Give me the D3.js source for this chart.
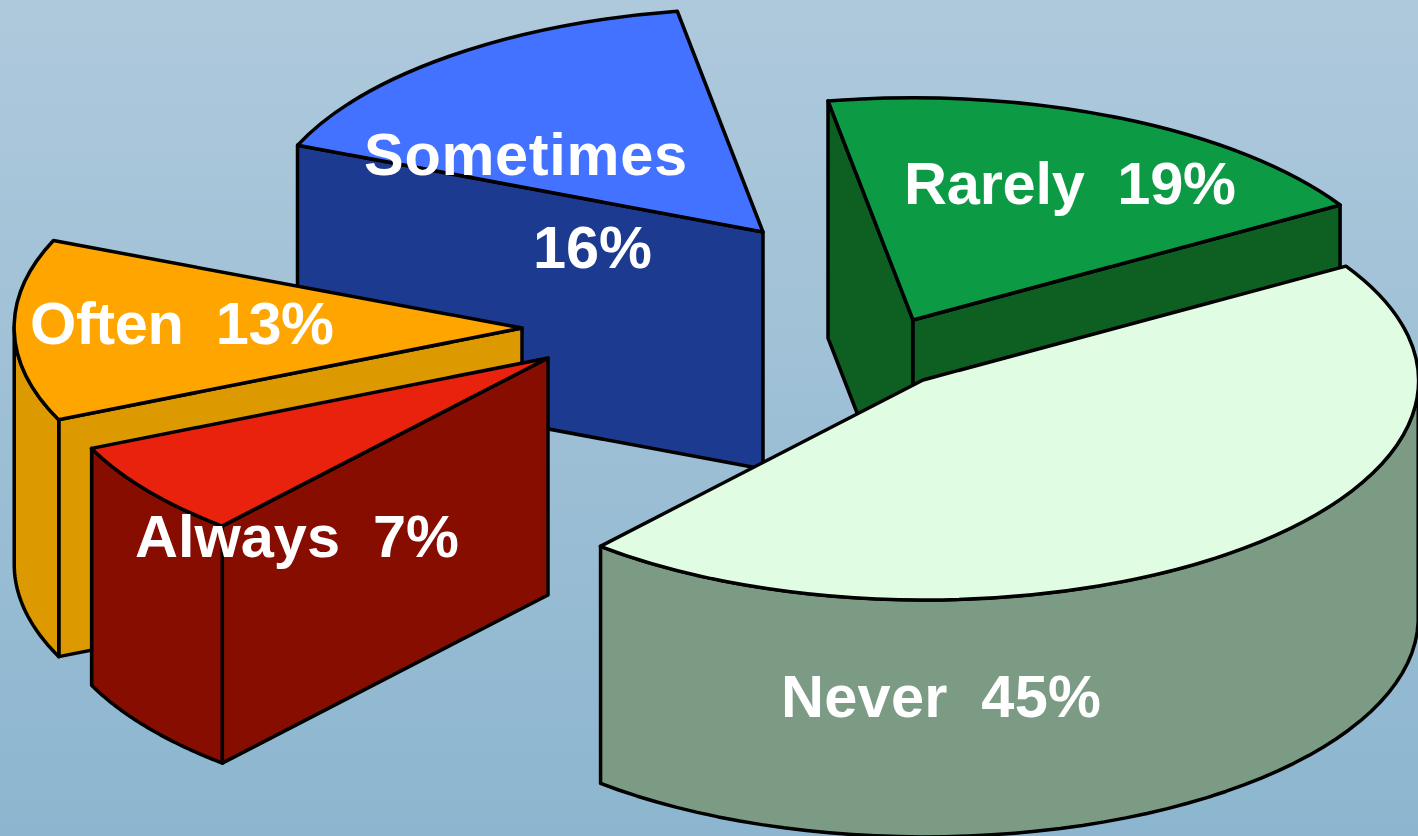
<!DOCTYPE html>
<html>
<head>
<meta charset="utf-8">
<script src="https://cdn.jsdelivr.net/npm/d3@7"></script>
<style>
  html, body { margin: 0; padding: 0; overflow: hidden; }
  svg { display: block; }
  text { font-family: "Liberation Sans", Arial, sans-serif; font-weight: bold; fill: #fff; white-space: pre; }
</style>
</head>
<body>
<div id="chart"></div>
<script>
// values, in pie order (clockwise from the back)
var categories = ["Rarely", "Never", "Always", "Often", "Sometimes"];
var percents = [19, 45, 7, 13, 16];

// styling per category
var topColors = ["#0f9a45", "#e0fde4", "#e8200c", "#ffa500", "#4272ff"];
var wallColors = ["#0a5f23", "#7b9b84", "#870b05", "#dc9a00", "#1d3a90"];

// exploded offset of each slice from the pie centre, in pixels
var explodeX = [173, 183, -192, -218, 23];
var explodeY = [20, 80, 58, 28, -68];
// the slices are not quite the same radius in the original
var radiusScale = [1, 0.99, 1, 1.015, 1.008];

// back to front
var drawOrder = ["Sometimes", "Rarely", "Often", "Always", "Never"];

var width = 1418, height = 836;
var centre = {x: 740, y: 300};
var depth = 237;

// tilted disc: image of the unit circle, angle 0 is the back of the pie
var axisA = {x: -85, y: -219};
var axisB = {x: 493, y: -37};

var svg = d3.select("#chart")
    .append("svg")
    .attr("width", width)
    .attr("height", height);

var defs = svg.append("defs");

var bg = defs.append("linearGradient")
    .attr("id", "bg")
    .attr("x1", 0).attr("y1", 0)
    .attr("x2", 0).attr("y2", 1);
bg.append("stop").attr("offset", "0%").attr("stop-color", "#afc9dc");
bg.append("stop").attr("offset", "100%").attr("stop-color", "#8cb6cf");

defs.append("filter")
    .attr("id", "soft")
    .append("feGaussianBlur")
    .attr("stdDeviation", 0.7);

svg.append("rect")
    .attr("width", width)
    .attr("height", height)
    .attr("fill", "url(#bg)");

var chart = svg.append("g").attr("filter", "url(#soft)");

var pie = d3.pie()
    .sort(null)
    .startAngle(0)
    .endAngle(2 * Math.PI)
    .value(function(d) { return d.percent; });

var slices = pie(categories.map(function(name, i) {
    return {name: name, percent: percents[i], index: i};
}));

var arc = d3.arc().innerRadius(0).outerRadius(1);
var line = d3.line();

function apexOf(s) {
    return [centre.x + explodeX[s.data.index], centre.y + explodeY[s.data.index]];
}

function rimPoint(s, angle) {
    var apex = apexOf(s), k = radiusScale[s.data.index];
    return [apex[0] + k * (axisA.x * Math.cos(angle) + axisB.x * Math.sin(angle)),
            apex[1] + k * (axisA.y * Math.cos(angle) + axisB.y * Math.sin(angle))];
}

// going clockwise, an outline piece faces the viewer only while x is falling
function visibleRuns(chain) {
    var runs = [], run = null;
    for (var i = 1; i < chain.length; i++) {
        if (chain[i][0] < chain[i - 1][0]) {
            if (!run) { run = [chain[i - 1]]; runs.push(run); }
            run.push(chain[i]);
        } else {
            run = null;
        }
    }
    return runs;
}

function wallPath(run) {
    var bottom = run.map(function(p) { return [p[0], p[1] + depth]; }).reverse();
    return line(run.concat(bottom)) + "Z";
}

drawOrder.forEach(function(name) {
    var s = slices[categories.indexOf(name)];
    var apex = apexOf(s), k = radiusScale[s.data.index];
    var rim = d3.range(0, 61).map(function(j) {
        return rimPoint(s, s.startAngle + (s.endAngle - s.startAngle) * j / 60);
    });
    var chains = [[apex, rim[0]], rim, [rim[60], apex]];

    var g = chart.append("g").attr("class", "slice");

    chains.forEach(function(chain) {
        visibleRuns(chain).forEach(function(run) {
            g.append("path")
                .attr("d", wallPath(run))
                .attr("fill", wallColors[s.data.index])
                .attr("stroke", "#000")
                .attr("stroke-width", 3.5)
                .attr("stroke-linejoin", "round");
        });
    });

    // d3.arc draws the unit slice, the matrix tilts it onto the disc
    g.append("path")
        .attr("d", arc(s))
        .attr("transform", "matrix(" + [k * axisB.x, k * axisB.y, -k * axisA.x, -k * axisA.y, apex[0], apex[1]].join(",") + ")")
        .attr("fill", topColors[s.data.index])
        .attr("stroke", "#000")
        .attr("stroke-width", 3.5)
        .attr("stroke-linejoin", "round")
        .attr("vector-effect", "non-scaling-stroke");
});

// labels, one row per line of text, span is the width measured in the picture
var labelLines = [
    {text: categories[0] + "  " + percents[0] + "%", x: 904, y: 204, span: 332},
    {text: categories[1] + "  " + percents[1] + "%", x: 781, y: 717, span: 320},
    {text: categories[2] + "  " + percents[2] + "%", x: 135, y: 557, span: 324},
    {text: categories[3] + "  " + percents[3] + "%", x: 30, y: 344, span: 304},
    {text: categories[4], x: 364, y: 175, span: 323},
    {text: percents[4] + "%", x: 533, y: 268, span: 119}
];

chart.selectAll("text")
    .data(labelLines)
    .enter()
    .append("text")
    .attr("x", function(d) { return d.x; })
    .attr("y", function(d) { return d.y; })
    .attr("font-size", 59.5)
    .attr("textLength", function(d) { return d.span; })
    .attr("lengthAdjust", "spacing")
    .text(function(d) { return d.text; });
</script>
</body>
</html>
